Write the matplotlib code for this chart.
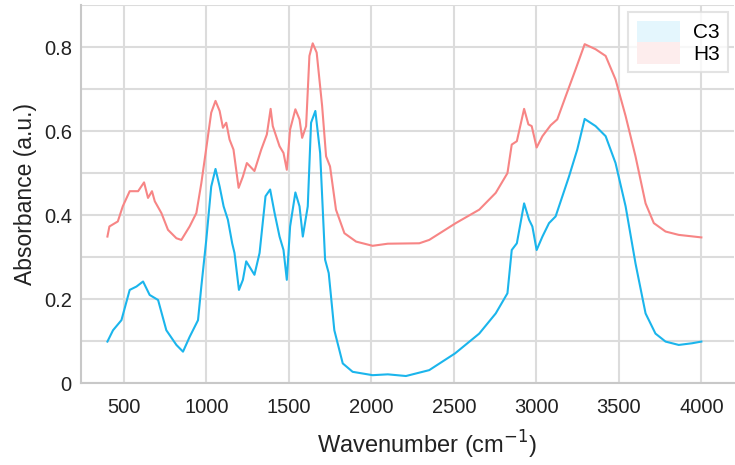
import matplotlib
matplotlib.use("Agg")

import matplotlib.pyplot as plt
from matplotlib.patches import Patch
from matplotlib.ticker import MultipleLocator, FuncFormatter

plt.rcParams['font.family'] = ['Liberation Sans', 'DejaVu Sans']

# C3 espectro (azul)
wn_c3 = [401, 435, 486, 536, 577, 617, 657, 708, 758, 819, 859, 899, 950, 970, 1000,
         1030, 1056, 1081, 1105, 1131, 1157, 1171, 1198, 1222, 1242, 1292, 1323, 1359,
         1387, 1414, 1444, 1468, 1488, 1508, 1540, 1565, 1585, 1615, 1635, 1661, 1690,
         1720, 1742, 1776, 1827, 1887, 2008, 2100, 2210, 2351, 2508, 2654, 2754, 2825,
         2851, 2882, 2926, 2956, 2976, 3002, 3037, 3077, 3117, 3198, 3248, 3293, 3359,
         3420, 3480, 3541, 3601, 3662, 3722, 3783, 3863, 3944, 4000]
abs_c3 = [0.099, 0.126, 0.150, 0.222, 0.230, 0.242, 0.210, 0.198, 0.126, 0.091, 0.075,
          0.110, 0.150, 0.230, 0.341, 0.468, 0.510, 0.468, 0.421, 0.389, 0.333, 0.310,
          0.222, 0.246, 0.290, 0.258, 0.310, 0.445, 0.461, 0.405, 0.349, 0.317, 0.246,
          0.373, 0.454, 0.421, 0.349, 0.421, 0.620, 0.648, 0.548, 0.294, 0.262, 0.126,
          0.047, 0.027, 0.019, 0.021, 0.017, 0.031, 0.071, 0.118, 0.166, 0.214, 0.317,
          0.333, 0.428, 0.389, 0.373, 0.317, 0.349, 0.381, 0.397, 0.492, 0.556, 0.629,
          0.612, 0.588, 0.524, 0.421, 0.285, 0.166, 0.118, 0.099, 0.091, 0.095, 0.099]

# H3 espectro (rojo)
wn_h3 = [401, 413, 464, 494, 536, 587, 623, 647, 671, 688, 728, 768, 819, 849, 899,
         940, 970, 996, 1030, 1056, 1081, 1101, 1121, 1141, 1165, 1196, 1222, 1246,
         1292, 1333, 1367, 1390, 1403, 1444, 1468, 1488, 1508, 1540, 1565, 1581, 1605,
         1625, 1645, 1669, 1702, 1726, 1750, 1786, 1837, 1908, 2008, 2100, 2291, 2351,
         2512, 2654, 2754, 2825, 2851, 2882, 2926, 2952, 2972, 3002, 3037, 3087, 3127,
         3178, 3238, 3293, 3359, 3420, 3480, 3541, 3601, 3662, 3712, 3783, 3863, 4000]
abs_h3 = [0.349, 0.373, 0.385, 0.421, 0.457, 0.457, 0.478, 0.441, 0.457, 0.433, 0.405,
          0.365, 0.345, 0.341, 0.373, 0.405, 0.476, 0.548, 0.644, 0.672, 0.648, 0.608,
          0.620, 0.580, 0.556, 0.465, 0.492, 0.524, 0.505, 0.556, 0.592, 0.653, 0.612,
          0.564, 0.548, 0.508, 0.604, 0.652, 0.628, 0.584, 0.612, 0.779, 0.809, 0.787,
          0.660, 0.540, 0.516, 0.413, 0.357, 0.337, 0.327, 0.332, 0.333, 0.341, 0.381,
          0.413, 0.453, 0.500, 0.568, 0.576, 0.653, 0.616, 0.612, 0.561, 0.588, 0.614,
          0.628, 0.683, 0.747, 0.807, 0.795, 0.779, 0.723, 0.636, 0.540, 0.428, 0.381,
          0.361, 0.353, 0.347]

x_ticks = [500, 1000, 1500, 2000, 2500, 3000, 3500, 4000]
labels = ["C3", "H3"]

fig = plt.figure(figsize=(7.35, 4.65), dpi=100)
ax = fig.add_axes([0.110, 0.176, 0.888, 0.813])

ax.plot(wn_c3, abs_c3, color="#1BB5EC", lw=1.5)
ax.plot(wn_h3, abs_h3, color="#F78585", lw=1.5)

ax.set_xlim(240, 4195)
ax.set_ylim(0, 0.9)
ax.set_xticks(x_ticks)
ax.yaxis.set_major_locator(MultipleLocator(0.2))
ax.yaxis.set_minor_locator(MultipleLocator(0.1))
ax.yaxis.set_major_formatter(FuncFormatter(lambda v, p: "0" if v == 0 else "%.1f" % v))
ax.set_yticks([0, 0.2, 0.4, 0.6, 0.8])

ax.grid(True, which="both", color="#DCDCDC", lw=1.5)
ax.set_axisbelow(True)
ax.tick_params(which="both", length=0, labelsize=14.5, colors="#222222")
ax.tick_params(axis="x", pad=11)
ax.tick_params(axis="y", pad=6.5)

for s in ["top", "right"]:
    ax.spines[s].set_visible(False)
for s in ["left", "bottom"]:
    ax.spines[s].set_color("#C8C8C8")
    ax.spines[s].set_linewidth(1.5)

ax.set_xlabel("Wavenumber (cm$^{-1}$)", fontsize=17, color="#222222")
ax.xaxis.set_label_coords(0.53, -0.122)
ax.set_ylabel("Absorbance (a.u.)", fontsize=16.5, color="#222222", labelpad=5)

handles = [Patch(facecolor="#E4F6FD", edgecolor="none"),
           Patch(facecolor="#FDEDED", edgecolor="none")]
leg = ax.legend(handles, labels, loc="upper right", bbox_to_anchor=(0.9916, 0.981),
                borderaxespad=0, fontsize=15, frameon=True, fancybox=False,
                handlelength=2.1, handleheight=1.2, labelspacing=0.0, borderpad=0.4,
                handletextpad=0.6)
leg.get_frame().set_edgecolor("#DDDDDD")
leg.get_frame().set_linewidth(1.5)

fig.savefig("out.png", dpi=100)
